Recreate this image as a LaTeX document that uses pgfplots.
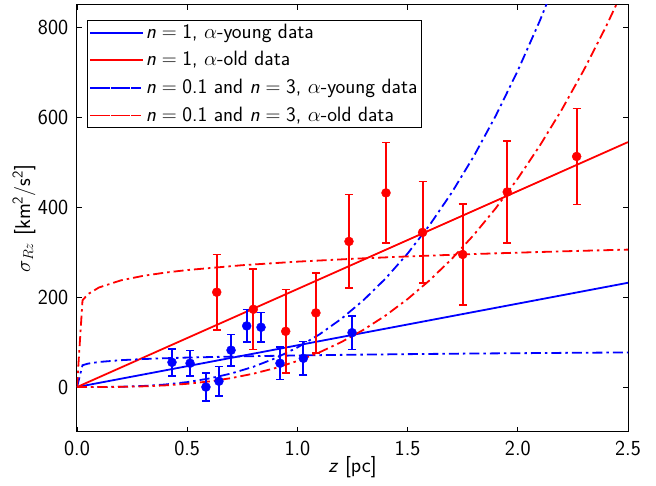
\documentclass[border=0pt]{standalone}
\usepackage{pgfplots}
\pgfplotsset{compat=1.18}
\begin{document}
\fontsize{21.5}{26}\selectfont\sffamily
\begin{tikzpicture}
\begin{axis}[
  at={(0,0)}, anchor=south west,
  scale only axis, width=551bp, height=427bp,
  xmin=0, xmax=2.5, ymin=-100, ymax=850,
  xtick={0,0.5,1,1.5,2,2.5}, xticklabels={0.0,0.5,1.0,1.5,2.0,2.5},
  ytick={0,200,400,600,800}, yticklabels={0,200,400,600,800},
  minor tick num=0,
  tick align=inside, tick style={black, line width=0.8bp}, major tick length=5bp,
  axis line style={line width=1bp},
  font=\fontsize{21.5}{26}\selectfont\sffamily,
  xticklabel style={yshift=-1.5bp},
  yticklabel style={xshift=-1.5bp},
  xlabel={\textit{z} [pc]},
  ylabel={$\sigma_{Rz}$ [km\textsuperscript{2}/s\textsuperscript{2}]},
  every axis x label/.style={at={(axis description cs:0.5,-0.0831)}, anchor=center},
  every axis y label/.style={at={(axis description cs:-0.0962,0.5)}, anchor=center, rotate=90},
  legend style={at={(0.0176,0.965)}, anchor=north west, draw=black, line width=1bp,
    font=\fontsize{20.8}{25}\selectfont\sffamily, row sep=6bp, inner xsep=2bp, inner ysep=1.5bp},
  legend cell align=left,
  leg/.style={legend image code/.code={\path (0bp,0bp) -- (53bp,0bp); \draw[##1] (10bp,0bp) -- (40bp,0bp);}},
  dd/.style={line width=1.8bp, dash pattern=on 10bp off 4bp on 2.5bp off 4bp},
]
% n=1 lines
\addplot[blue, line width=1.8bp, leg] coordinates {(0,0) (2.5,232)};
\addlegendentry{\textit{n}$\;=\;$1, $\alpha$-young data}
\addplot[red, line width=1.8bp, leg] coordinates {(0,0) (2.5,545)};
\addlegendentry{\textit{n}$\;=\;$1, $\alpha$-old data}
% blue n=0.1
\addplot[blue, dd, leg] coordinates {(0,0) (0.025,48.6) (0.05,52.1) (0.1,55.8) (0.2,59.8) (0.3,62.3) (0.4,64.1) (0.5,65.6) (0.75,68.3) (1.0,70.3) (1.25,71.9) (1.5,73.2) (1.75,74.4) (2.0,75.3) (2.25,76.2) (2.5,77.0)};
\addlegendentry{\textit{n}$\;=\;$0.1 and \textit{n}$\;=\;$3, $\alpha$-young data}
% blue n=3
\addplot[blue, dd, forget plot] coordinates {(0,0) (0.1,0.088) (0.2,0.704) (0.3,2.376) (0.4,5.632) (0.5,11) (0.6,19.01) (0.7,30.18) (0.8,45.06) (0.9,64.15) (1.0,88) (1.1,117.13) (1.2,152.06) (1.3,193.34) (1.4,241.47) (1.5,297) (1.6,360.45) (1.7,432.34) (1.8,513.22) (1.9,603.59) (2.0,704) (2.1,814.97) (2.2,937.02)};
% red n=0.1
\addplot[red, dd, leg] coordinates {(0,0) (0.025,193.0) (0.05,206.8) (0.1,221.6) (0.2,237.5) (0.3,247.4) (0.4,254.6) (0.5,260.3) (0.75,271.1) (1.0,279) (1.25,285.3) (1.5,290.6) (1.75,295.1) (2.0,299.0) (2.25,302.6) (2.5,305.8)};
\addlegendentry{\textit{n}$\;=\;$0.1 and \textit{n}$\;=\;$3, $\alpha$-old data}
% red n=3
\addplot[red, dd, forget plot] coordinates {(0,0) (0.1,0.058) (0.2,0.464) (0.3,1.566) (0.4,3.712) (0.5,7.25) (0.6,12.53) (0.7,19.89) (0.8,29.70) (0.9,42.28) (1.0,58) (1.1,77.2) (1.2,100.22) (1.3,127.43) (1.4,159.15) (1.5,195.75) (1.6,237.57) (1.7,284.95) (1.8,338.26) (1.9,397.82) (2.0,464) (2.1,537.14) (2.2,617.58) (2.3,705.69) (2.4,801.79) (2.5,906.25)};
% young data
\addplot[blue, only marks, mark=*, mark size=4.5bp, mark options={fill=blue, draw=blue}, forget plot,
  error bars/.cd, y dir=both, y explicit, error bar style={line width=2bp, blue, solid},
  error mark=-, error mark options={rotate=90, mark size=4bp, line width=1.5bp, blue}]
  table[x=x, y=y, y error=e] {
x y e
0.431 55 30
0.513 53 28
0.585 0 31
0.644 13 33
0.699 82 35
0.770 136 36
0.835 133 33
0.921 53 36
1.027 64 37
1.248 121 37
};
% old data
\addplot[red, only marks, mark=*, mark size=4.5bp, mark options={fill=red, draw=red}, forget plot,
  error bars/.cd, y dir=both, y explicit, error bar style={line width=2bp, red, solid},
  error mark=-, error mark options={rotate=90, mark size=4bp, line width=1.5bp, red}]
  table[x=x, y=y, y error=e] {
x y e
0.634 211 84
0.800 173 90
0.947 124 93
1.084 165 89
1.234 324 104
1.402 432 112
1.568 344 113
1.750 295 112
1.952 434 113
2.267 513 107
};
\end{axis}
\path[use as bounding box] (-77bp,-49bp) rectangle (579bp,432bp);
\end{tikzpicture}
\end{document}
